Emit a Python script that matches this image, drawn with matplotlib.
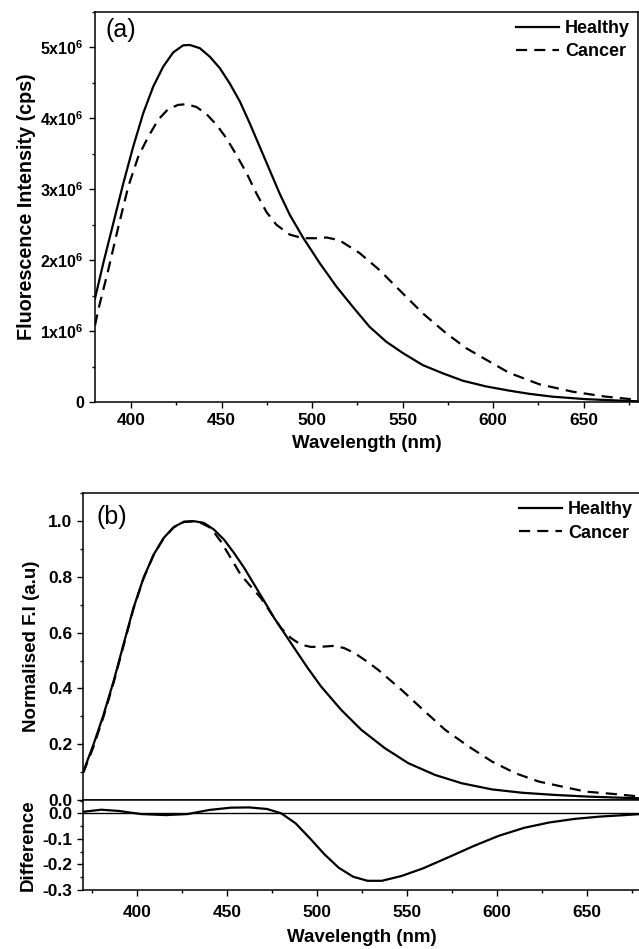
import matplotlib
matplotlib.use("Agg")
import matplotlib.pyplot as plt
from matplotlib.ticker import MultipleLocator, FixedLocator, FixedFormatter

plt.rcParams['font.family'] = ['Liberation Sans', 'DejaVu Sans']
plt.rcParams['mathtext.fontset'] = 'custom'
plt.rcParams['mathtext.rm'] = 'Liberation Sans'
plt.rcParams['mathtext.bf'] = 'Liberation Sans:bold'

# ---------------- Panel (a): raw intensity (units of 1e6 cps) ----------------
a_healthy_nm = [380, 384.6, 390.1, 395.6, 401.1, 406.6, 412.2, 417.7, 423.2, 428.7,
                432.4, 437.9, 443.4, 448.9, 454.5, 460, 465.5, 471, 476.5, 482,
                487.6, 494.9, 504.1, 513.3, 522.5, 531.7, 540.9, 550.1, 561.1, 572.1,
                583.2, 596, 608.9, 620, 632.8, 651.2, 665, 680]
a_healthy = [1.46, 1.96, 2.52, 3.08, 3.60, 4.07, 4.45, 4.73, 4.93, 5.03,
             5.035, 4.99, 4.87, 4.71, 4.49, 4.24, 3.93, 3.60, 3.27, 2.94,
             2.64, 2.32, 1.96, 1.63, 1.34, 1.06, 0.85, 0.69, 0.52, 0.405,
             0.30, 0.22, 0.16, 0.115, 0.075, 0.04, 0.025, 0.01]

a_cancer_nm = [380, 381.8, 387.3, 392.9, 398.4, 403.9, 409.4, 414.9, 420.4, 425.9,
               430.6, 436.1, 441.6, 447.1, 452.6, 458.2, 463.7, 469.2, 474.7, 480.2,
               487.6, 494.9, 502.3, 508, 515.1, 526.2, 537.2, 550.1, 561.1, 574,
               585, 597.9, 608.9, 625.5, 643.9, 662.3, 680]
a_cancer = [1.08, 1.30, 1.86, 2.47, 3.04, 3.46, 3.74, 3.98, 4.13, 4.19,
            4.20, 4.16, 4.06, 3.91, 3.72, 3.48, 3.23, 2.94, 2.68, 2.50,
            2.36, 2.31, 2.31, 2.32, 2.28, 2.10, 1.86, 1.53, 1.25, 0.97,
            0.76, 0.57, 0.41, 0.25, 0.145, 0.075, 0.03]

a_yticks = [0, 1, 2, 3, 4, 5]
a_yticklabels = ['0', '1x10$^{\\mathbf{6}}$', '2x10$^{\\mathbf{6}}$', '3x10$^{\\mathbf{6}}$',
                 '4x10$^{\\mathbf{6}}$', '5x10$^{\\mathbf{6}}$']
xticks = [400, 450, 500, 550, 600, 650]

# ---------------- Panel (b): normalised ----------------
b_healthy_nm = [370, 375.6, 381.2, 386.8, 392.3, 397.9, 403.5, 409.1, 414.7, 420.3,
                425.9, 431.5, 437, 442.6, 448.2, 453.8, 459.4, 465, 470.6, 476.1,
                481.7, 487.3, 494.8, 502.2, 513.4, 524.5, 537.6, 550.7, 565.5, 580.4,
                597.2, 614, 632.6, 651.2, 665, 680]
b_healthy = [0.102, 0.198, 0.305, 0.425, 0.557, 0.689, 0.797, 0.880, 0.940, 0.979,
             0.998, 1.0, 0.994, 0.970, 0.934, 0.886, 0.833, 0.773, 0.713, 0.653,
             0.599, 0.545, 0.473, 0.407, 0.323, 0.252, 0.186, 0.132, 0.090, 0.060,
             0.038, 0.026, 0.018, 0.012, 0.009, 0.006]

b_cancer_nm = [370, 375.6, 381.2, 386.8, 392.3, 397.9, 403.5, 409.1, 414.7, 420.3,
               425.9, 431.5, 436, 440.8, 446.4, 452, 457.5, 463.1, 468.7, 474.3,
               479.9, 485.4, 491, 496.6, 503, 509.7, 515, 520.8, 527, 533.9,
               546.9, 560, 571.1, 584.2, 597.2, 610.2, 623.3, 636.3, 649.3, 664.2,
               680]
b_cancer = [0.098, 0.190, 0.298, 0.420, 0.552, 0.686, 0.795, 0.879, 0.939, 0.978,
            0.997, 1.0, 0.992, 0.976, 0.928, 0.868, 0.808, 0.766, 0.725, 0.671,
            0.617, 0.581, 0.557, 0.549, 0.550, 0.553, 0.545, 0.527, 0.500, 0.467,
            0.395, 0.317, 0.252, 0.192, 0.138, 0.096, 0.066, 0.048, 0.030, 0.022,
            0.012]

# ---------------- Difference (healthy - cancer) ----------------
d_nm = [370, 380, 390, 402, 416, 428, 440, 452, 462, 472,
        480, 488, 496, 504, 512, 520, 528, 536, 547, 559,
        573, 587, 601, 615, 629, 643, 657, 671, 680]
d_val = [0.006, 0.014, 0.009, -0.003, -0.007, -0.003, 0.013, 0.022, 0.023, 0.017,
         0.0, -0.039, -0.098, -0.160, -0.213, -0.248, -0.264, -0.264, -0.245, -0.215,
         -0.172, -0.128, -0.088, -0.057, -0.036, -0.022, -0.013, -0.007, -0.003]

W, H = 639, 949
fig = plt.figure(figsize=(W / 100, H / 100), dpi=100)

TICK_FS = 12.5
LABEL_FS = 13.5
LEG_FS = 13
lw_curve = 1.6
dash = (0, (5, 3.2))


def style(ax):
    for s in ax.spines.values():
        s.set_linewidth(1.1)
    ax.tick_params(which='major', direction='out', length=4, width=1.0, labelsize=TICK_FS, pad=4)
    ax.tick_params(which='minor', direction='out', length=2.5, width=1.0)


def bold_ticks(ax):
    for lab in ax.get_xticklabels() + ax.get_yticklabels():
        lab.set_fontweight('bold')


# Panel (a)
axa = fig.add_axes([95 / W, 1 - 402 / H, 1 - 95 / W - 0.0015, (402 - 12) / H])
axa.plot(a_healthy_nm, a_healthy, color='black', lw=lw_curve, label='Healthy')
axa.plot(a_cancer_nm, a_cancer, color='black', lw=lw_curve, linestyle=dash, label='Cancer')
axa.set_xlim(380, 680)
axa.set_ylim(0, 5.5)
axa.xaxis.set_major_locator(FixedLocator(xticks))
axa.xaxis.set_minor_locator(MultipleLocator(25))
axa.yaxis.set_major_locator(FixedLocator(a_yticks))
axa.yaxis.set_major_formatter(FixedFormatter(a_yticklabels))
axa.yaxis.set_minor_locator(MultipleLocator(0.5))
style(axa)
axa.tick_params(axis='y', labelsize=11.5)
axa.set_xlabel('Wavelength (nm)', fontsize=LABEL_FS, fontweight='bold', labelpad=5)
axa.set_ylabel('Fluorescence Intensity (cps)', fontsize=LABEL_FS + 0.7, fontweight='bold', labelpad=3)
axa.text(0.02, 0.985, '(a)', transform=axa.transAxes, fontsize=18, va='top', ha='left')
axa.legend(loc='upper right', frameon=False, prop={'weight': 'bold', 'size': LEG_FS},
           handlelength=2.4, handletextpad=0.3, borderaxespad=0.15, labelspacing=0.35,
           borderpad=0.3)

# Panel (b) upper
axb = fig.add_axes([83.3 / W, 1 - 800 / H, 1 - 83.3 / W + 0.003, (800 - 493.3) / H])
axb.plot(b_healthy_nm, b_healthy, color='black', lw=lw_curve, label='Healthy')
axb.plot(b_cancer_nm, b_cancer, color='black', lw=lw_curve, linestyle=dash, label='Cancer')
axb.set_xlim(370, 680)
axb.set_ylim(0, 1.1)
axb.yaxis.set_major_locator(FixedLocator([0.0, 0.2, 0.4, 0.6, 0.8, 1.0]))
axb.yaxis.set_minor_locator(MultipleLocator(0.1))
axb.yaxis.set_major_formatter(plt.FuncFormatter(lambda v, p: f'{v:.1f}'))
style(axb)
axb.tick_params(axis='x', which='both', bottom=False, labelbottom=False)
axb.set_ylabel('Normalised F.I (a.u)', fontsize=LABEL_FS, fontweight='bold', labelpad=6)
axb.text(0.024, 0.963, '(b)', transform=axb.transAxes, fontsize=18, va='top', ha='left')
axb.legend(loc='upper right', frameon=False, prop={'weight': 'bold', 'size': LEG_FS},
           handlelength=2.4, handletextpad=0.3, borderaxespad=0.15, labelspacing=0.35,
           borderpad=0.3)

# Difference panel
axd = fig.add_axes([83.3 / W, 1 - 890 / H, 1 - 83.3 / W + 0.003, (890 - 800) / H])
axd.plot(d_nm, d_val, color='black', lw=lw_curve)
axd.axhline(0, color='black', lw=1.0)
axd.set_xlim(370, 680)
axd.set_ylim(-0.3, 0.052)
axd.xaxis.set_major_locator(FixedLocator(xticks))
axd.xaxis.set_minor_locator(MultipleLocator(25))
axd.yaxis.set_major_locator(FixedLocator([-0.3, -0.2, -0.1, 0.0]))
axd.yaxis.set_minor_locator(FixedLocator([-0.25, -0.15, -0.05, 0.05]))
axd.yaxis.set_major_formatter(plt.FuncFormatter(lambda v, p: f'{v:.1f}'))
style(axd)
axd.tick_params(axis='x', pad=7)
axd.set_xlabel('Wavelength (nm)', fontsize=LABEL_FS, fontweight='bold', labelpad=6)
axd.set_ylabel('Difference', fontsize=LABEL_FS, fontweight='bold', labelpad=4)

for ax in (axa, axb, axd):
    bold_ticks(ax)

fig.savefig('out.png', dpi=100)
